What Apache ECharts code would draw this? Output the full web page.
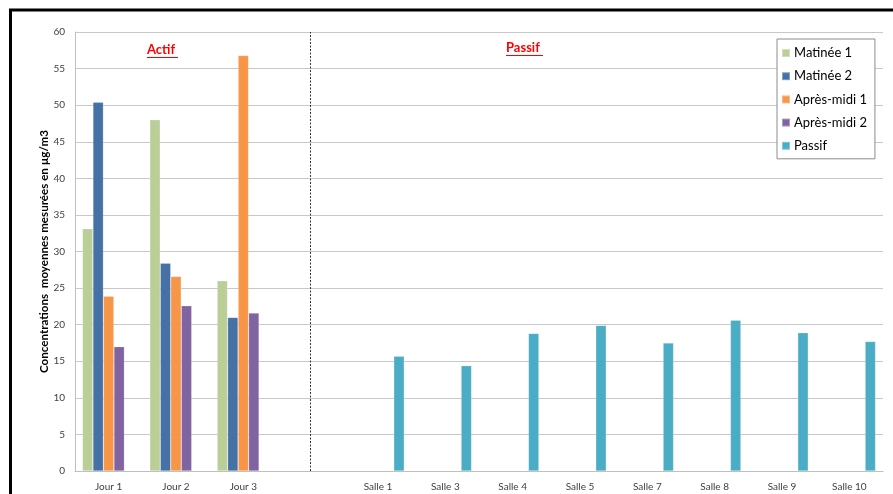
<!DOCTYPE html>
<html>
<head>
<meta charset="utf-8">
<script src="https://cdn.jsdelivr.net/npm/echarts@6/dist/echarts.min.js"></script>
<style>
  html, body { margin: 0; padding: 0; background: #fff; }
  #chart { width: 893px; height: 494px; }
</style>
</head>
<body>
<div id="chart"></div>
<script>
// Categories: three active-sampling days, a blank spacer, then the passive rooms
const categories = ['Jour 1', 'Jour 2', 'Jour 3', '', 'Salle 1', 'Salle 3', 'Salle 4', 'Salle 5', 'Salle 7', 'Salle 8', 'Salle 9', 'Salle 10'];

// Active sampling (µg/m3), one value per day
const matinee1   = [33.1, 48.0, 26.0];
const matinee2   = [50.4, 28.4, 21.0];
const apresMidi1 = [23.9, 26.6, 56.8];
const apresMidi2 = [17.0, 22.6, 21.6];

// Passive sampling (µg/m3), one value per room
const passif = [15.7, 14.4, 18.8, 19.9, 17.5, 20.6, 18.9, 17.7];

const yTicks = { min: 0, max: 60, interval: 5 };

// Pad each series onto the full category list
const activeSeries = arr => categories.map((c, i) => (i < arr.length ? arr[i] : null));
const passiveSeries = arr => categories.map((c, i) => (i >= 4 ? arr[i - 4] : null));

const fontFamily = 'Lato, "Open Sans", sans-serif';
const colors = ['#B9CF97', '#4571A7', '#F79646', '#8064A2', '#4BACC6'];

const chart = echarts.init(document.getElementById('chart'));

function barSeries(name, data, extra) {
  return Object.assign({
    name: name,
    type: 'bar',
    data: data,
    barWidth: 10.5,
    barGap: '0%',
    itemStyle: { borderColor: 'rgba(255,255,255,0.35)', borderWidth: 0.6 }
  }, extra || {});
}

chart.setOption({
  animation: false,
  color: colors,
  textStyle: { fontFamily: fontFamily },
  grid: { left: 75, right: 10, top: 32, bottom: 23, containLabel: false },
  legend: {
    orient: 'vertical',
    left: 777,
    top: 39,
    padding: [7, 8, 6, 4],
    itemGap: 9.2,
    itemWidth: 8,
    itemHeight: 8,
    icon: 'rect',
    borderColor: '#8c8c8c',
    borderWidth: 1,
    backgroundColor: '#fff',
    textStyle: { fontSize: 13, color: '#000', fontFamily: fontFamily, padding: [0, 0, 0, -1], lineHeight: 14 },
    data: ['Matinée 1', 'Matinée 2', 'Après-midi 1', 'Après-midi 2', 'Passif']
  },
  xAxis: {
    type: 'category',
    data: categories,
    axisLine: { lineStyle: { color: '#BFBFBF' } },
    axisTick: { show: false },
    axisLabel: { color: '#404040', fontSize: 10, margin: 11, interval: 0 }
  },
  yAxis: {
    type: 'value',
    min: yTicks.min,
    max: yTicks.max,
    interval: yTicks.interval,
    name: 'Concentrations  moyennes mesurées en µg/m3',
    nameLocation: 'middle',
    nameGap: 25,
    nameMoveOverlap: false,
    nameRotate: 90,
    nameTextStyle: { fontSize: 11.6, fontWeight: 'bold', color: '#000' },
    axisLine: { show: true, lineStyle: { color: '#BFBFBF' } },
    axisTick: { show: false },
    splitLine: { lineStyle: { color: '#C8C8C8' } },
    axisLabel: { color: '#404040', fontSize: 10, margin: 10 }
  },
  series: [
    barSeries('Matinée 1', activeSeries(matinee1)),
    barSeries('Matinée 2', activeSeries(matinee2)),
    // the middle bar of the group sits on the category centre, so the
    // separator between the two sections is anchored to this series
    barSeries('Après-midi 1', activeSeries(apresMidi1), {
      markLine: {
        silent: true,
        symbol: 'none',
        label: { show: false },
        lineStyle: { color: '#333', type: [2, 1.5], width: 1 },
        data: [{ xAxis: 3 }]
      }
    }),
    barSeries('Après-midi 2', activeSeries(apresMidi2)),
    barSeries('Passif', passiveSeries(passif))
  ],
  graphic: [
    // Outer frame (left and top edges)
    { type: 'line', shape: { x1: 10.5, y1: 9, x2: 10.5, y2: 494 }, style: { stroke: '#000', lineWidth: 3 } },
    { type: 'line', shape: { x1: 9, y1: 10, x2: 893, y2: 10 }, style: { stroke: '#000', lineWidth: 3 } },
    // Section headings, underlined
    { type: 'text', left: 147, top: 43, style: { text: 'Actif', fill: '#FF0000', font: 'bold 13px ' + fontFamily } },
    { type: 'line', shape: { x1: 147, y1: 57.5, x2: 178, y2: 57.5 }, style: { stroke: '#FF0000', lineWidth: 1 } },
    { type: 'text', left: 506, top: 41, style: { text: 'Passif', fill: '#FF0000', font: 'bold 13px ' + fontFamily } },
    { type: 'line', shape: { x1: 506, y1: 55.5, x2: 543, y2: 55.5 }, style: { stroke: '#FF0000', lineWidth: 1 } }
  ]
});
</script>
</body>
</html>
